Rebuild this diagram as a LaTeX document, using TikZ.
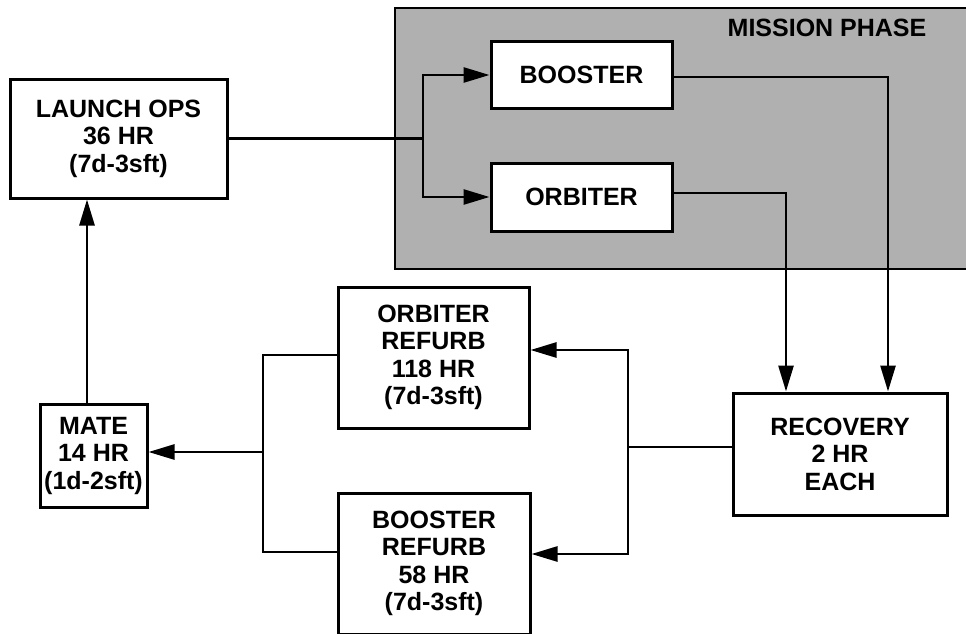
\documentclass[tikz,border=0pt]{standalone}
\usepackage{fontspec}
\setmainfont{Liberation Sans}
\usepackage{tikz}
\usetikzlibrary{arrows.meta, positioning, calc}
\usepackage{xcolor}
\definecolor{phasegray}{RGB}{176,176,176}

\begin{document}
\begin{tikzpicture}[x=1pt, y=-1pt,
  box/.style={draw, line width=3pt, fill=white, inner sep=0pt, align=center,
    font=\fontsize{25}{27.5}\selectfont\bfseries},
  link/.style={line width=2.7pt},
  arr/.style={link, -{Triangle[length=26pt, width=15pt]}}]
  \useasboundingbox (0,0) rectangle (966,634);
  \clip (0,0) rectangle (966,634);
  % Mission phase area
  \draw[line width=2.4pt, fill=phasegray] (395,8) rectangle (985,269);
  \node[font=\fontsize{25}{27.5}\selectfont\bfseries] (phaselbl) at (827,28) {MISSION PHASE};
  % Boxes
  \node[box, minimum width=217pt, minimum height=119pt] (launch) at (118.5,138.5) {LAUNCH OPS\\36 HR\\(7d-3sft)};
  \node[box, minimum width=181pt, minimum height=66pt] (booster) at (581.5,75) {BOOSTER};
  \node[box, minimum width=181pt, minimum height=68pt] (orbiter) at (581.5,197) {ORBITER};
  \node[box, minimum width=214pt, minimum height=122pt] (recovery) at (840,454) {RECOVERY\\2 HR\\EACH};
  \node[box, minimum width=191pt, minimum height=141pt] (orbref) at (433.5,357.5) {ORBITER\\REFURB\\118 HR\\(7d-3sft)};
  \node[box, minimum width=192pt, minimum height=141pt] (booref) at (434,563.5) {BOOSTER\\REFURB\\58 HR\\(7d-3sft)};
  \node[box, minimum width=107pt, minimum height=103pt] (mate) at (93.5,455.5) {MATE\\14 HR\\(1d-2sft)};
  % Branch points
  \coordinate (split) at (423,135);
  \coordinate (odrop) at (786,0);
  \coordinate (bdrop) at (888,0);
  \coordinate (rbr) at (628,447);
  \coordinate (lbr) at (263,452);
  % Launch to mission
  \draw[link] (launch.east) -- (launch.east -| split);
  \draw[arr] (launch.east -| split) |- (booster.west);
  \draw[arr] (launch.east -| split) |- (orbiter.west);
  % Mission to recovery
  \draw[arr] ([yshift=-2pt]booster.east) -| (bdrop |- recovery.north);
  \draw[arr] ([yshift=4pt]orbiter.east) -| (odrop |- recovery.north);
  % Recovery to refurb
  \draw[link] ([yshift=7pt]recovery.west) -- (rbr);
  \draw[arr] (rbr) |- ([yshift=7.5pt]orbref.east);
  \draw[arr] (rbr) |- ([yshift=9.5pt]booref.east);
  % Refurb to mate
  \draw[link] ([yshift=2.5pt]orbref.west) -| (lbr) |- ([yshift=11.5pt]booref.west);
  \draw[arr] (lbr) -- (lbr -| mate.east);
  % Mate to launch
  \draw[arr] ([xshift=-6.5pt]mate.north) -- ([xshift=-6.5pt]mate.north |- launch.south);
\end{tikzpicture}
\end{document}
